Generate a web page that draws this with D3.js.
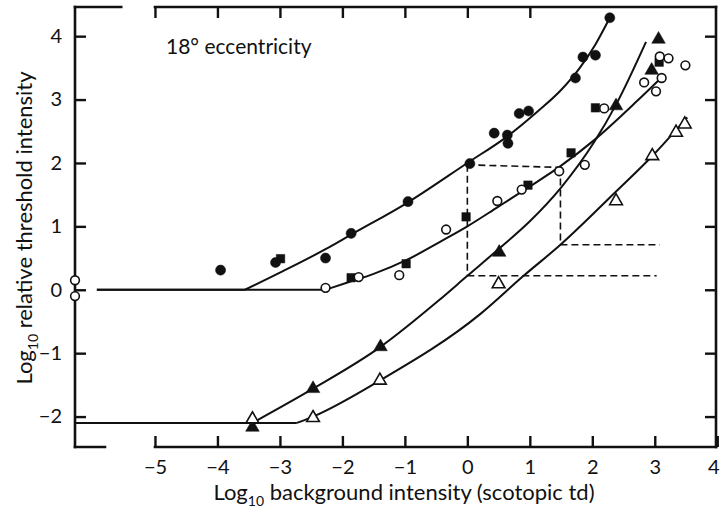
<!DOCTYPE html>
<html>
<head>
<meta charset="utf-8">
<script src="https://cdn.jsdelivr.net/npm/d3@7"></script>
<style>
  body { margin: 0; background: #fff; }
  svg text { font-family: Lato, "Open Sans", sans-serif; fill: #111; }
</style>
</head>
<body>
<svg id="chart" width="720" height="508"></svg>
<script>
// values (log10 units)
const filledCircles = [[-3.95,0.31],[-3.07,0.43],[-2.27,0.5],[-1.86,0.89],[-0.95,1.39],[0.04,1.99],
  [0.43,2.47],[0.64,2.44],[0.65,2.31],[0.83,2.78],[0.98,2.82],[1.73,3.34],[1.85,3.67],[2.05,3.7],[2.28,4.29]];
const filledSquares = [[-2.99,0.49],[-1.86,0.19],[-0.98,0.41],[-0.02,1.15],[0.97,1.65],[1.66,2.16],[2.05,2.87],[3.07,3.59]];
const openCircles = [[-6.28,0.15],[-6.28,-0.1],[-2.27,0.03],[-1.74,0.2],[-1.09,0.23],[-0.34,0.95],[0.48,1.4],
  [0.87,1.58],[1.47,1.87],[1.88,1.97],[2.19,2.86],[2.83,3.27],[3.02,3.13],[3.11,3.34],[3.08,3.68],[3.22,3.65],[3.49,3.54]];
const filledTriangles = [[-3.44,-2.17],[-2.47,-1.56],[-1.39,-0.9],[0.51,0.59],[2.38,2.9],[2.95,3.46],[3.06,3.95]];
const openTriangles = [[-3.44,-2.04],[-2.47,-2.02],[-1.4,-1.43],[0.5,0.09],[2.38,1.4],[2.96,2.11],[3.34,2.48],[3.48,2.61]];

// fitted curves: first two points are the flat part, the rest the rising branch
const curveFilledCircle = [[-5.93,0],[-3.56,0],[-3,0.27],[-2.27,0.64],[-1.86,0.87],[-0.95,1.38],[0,2.0],
  [0.64,2.42],[1.11,2.8],[1.5,3.15],[1.8,3.5],[2.05,3.87],[2.28,4.29]];
const curveOpenCircle = [[-5.93,0],[-2.27,0],[-1.93,0.11],[-1.5,0.25],[-0.97,0.47],[-0.43,0.76],[0,1.0],
  [0.48,1.3],[0.97,1.61],[1.49,1.95],[2.03,2.36],[2.72,2.98],[3.1,3.34]];
const curveFilledTriangle = [[-6.28,-2.1],[-3.44,-2.1],[-2.47,-1.56],[-1.39,-0.9],[-0.46,-0.17],[0,0.22],
  [0.51,0.65],[1.0,1.08],[1.49,1.6],[2.03,2.33],[2.38,2.92],[2.86,3.91]];
const curveOpenTriangle = [[-3.44,-2.1],[-2.73,-2.1],[-2.47,-2.0],[-1.4,-1.43],[0.21,-0.38],[0.9,0.22],
  [1.49,0.71],[2.38,1.55],[2.96,2.11],[3.52,2.72]];

const dashSegments = [
  [[0,1.97],[0,0.22]], [[0,1.97],[1.49,1.93]], [[1.49,1.93],[1.49,0.71]],
  [[1.49,0.71],[3.08,0.71]], [[0,0.22],[3.03,0.22]]
];

const xTicks = [-5,-4,-3,-2,-1,0,1,2,3,4];
const yTicks = [-2,-1,0,1,2,3,4];
const topTicks = [-5,-4,-3,-2,-1,0,1];

const svg = d3.select('#chart');
const x = d3.scaleLinear().domain([-6.28, 3.98]).range([75, 716]);
const y = d3.scaleLinear().domain([-2.48, 4.46]).range([447, 7]);
const [x0, x1] = x.range();
const [yb, yt] = y.range();

// frame (broken at the lower and upper left corners)
const frame = svg.append('g').attr('stroke', '#111').attr('stroke-width', 2.6).attr('fill', 'none')
  .attr('stroke-linecap', 'square');
frame.append('line').attr('x1', x0).attr('x2', x0).attr('y1', yt).attr('y2', yb);
frame.append('line').attr('x1', x1).attr('x2', x1).attr('y1', yt).attr('y2', yb);
frame.append('line').attr('x1', x0).attr('x2', x(-5.54)).attr('y1', yt).attr('y2', yt);
frame.append('line').attr('x1', x(-5)).attr('x2', x1).attr('y1', yt).attr('y2', yt);
frame.append('line').attr('x1', x0).attr('x2', x(-5.8)).attr('y1', yb).attr('y2', yb);
frame.append('line').attr('x1', x(-5)).attr('x2', x1).attr('y1', yb).attr('y2', yb);

function styleAxis(g) {
  g.select('.domain').remove();
  g.selectAll('.tick line').attr('stroke', '#111').attr('stroke-width', 2.4);
  g.selectAll('.tick text').attr('font-size', 20).attr('fill', '#111');
}

svg.append('g').attr('transform', `translate(0,${yb})`)
  .call(d3.axisBottom(x).tickValues(xTicks).tickSize(-11).tickPadding(13).tickFormat(d3.format('d')))
  .call(styleAxis)
  .call(g => g.selectAll('.tick text').filter(d => d === 4).attr('dx', -4));
svg.append('g').attr('transform', `translate(0,${yt})`)
  .call(d3.axisTop(x).tickValues(topTicks).tickSize(-11).tickFormat(''))
  .call(styleAxis);
svg.append('g').attr('transform', `translate(${x0},0)`)
  .call(d3.axisLeft(y).tickValues(yTicks).tickSize(-11).tickPadding(13).tickFormat(d3.format('d')))
  .call(styleAxis);
svg.append('g').attr('transform', `translate(${x1},0)`)
  .call(d3.axisRight(y).tickValues(yTicks).tickSize(-11).tickFormat(''))
  .call(styleAxis);

// curves
const flatLine = d3.line().x(d => x(d[0])).y(d => y(d[1]));
const riseLine = d3.line().x(d => x(d[0])).y(d => y(d[1])).curve(d3.curveMonotoneX);
const curves = svg.append('g').attr('fill', 'none').attr('stroke', '#111').attr('stroke-width', 2);
[curveFilledCircle, curveOpenCircle, curveFilledTriangle, curveOpenTriangle].forEach(c => {
  curves.append('path').attr('d', flatLine(c.slice(0, 2)));
  curves.append('path').attr('d', riseLine(c.slice(1)));
});

svg.append('g').attr('fill', 'none').attr('stroke', '#111').attr('stroke-width', 1.6)
  .attr('stroke-dasharray', '7,4')
  .selectAll('path').data(dashSegments).enter().append('path')
  .attr('d', d => flatLine(d));

// markers
const markers = svg.append('g');
function plot(data, type, size, filled) {
  markers.selectAll(null).data(data).enter().append('path')
    .attr('transform', d => `translate(${x(d[0])},${y(d[1])})`)
    .attr('d', d3.symbol().type(type).size(size))
    .attr('fill', filled ? '#111' : '#fff')
    .attr('stroke', '#111')
    .attr('stroke-width', filled ? 0.5 : 1.6);
}
plot(filledCircles, d3.symbolCircle, 80, true);
plot(filledSquares, d3.symbolSquare, 72, true);
plot(openCircles, d3.symbolCircle, 60, false);
plot(filledTriangles, d3.symbolTriangle, 80, true);
plot(openTriangles, d3.symbolTriangle, 70, false);

// labels
svg.append('text').attr('x', 166).attr('y', 54).attr('font-size', 21).text('18° eccentricity');

const xTitle = svg.append('text').attr('x', 404).attr('y', 500)
  .attr('text-anchor', 'middle').attr('font-size', 22);
xTitle.append('tspan').text('Log');
xTitle.append('tspan').attr('font-size', 14).attr('dy', 6).text('10');
xTitle.append('tspan').attr('dy', -6).text(' background intensity (scotopic td)');

const yTitle = svg.append('text').attr('transform', 'translate(32,228) rotate(-90)')
  .attr('text-anchor', 'middle').attr('font-size', 22);
yTitle.append('tspan').text('Log');
yTitle.append('tspan').attr('font-size', 14).attr('dy', 6).text('10');
yTitle.append('tspan').attr('dy', -6).text(' relative threshold intensity');
</script>
</body>
</html>
